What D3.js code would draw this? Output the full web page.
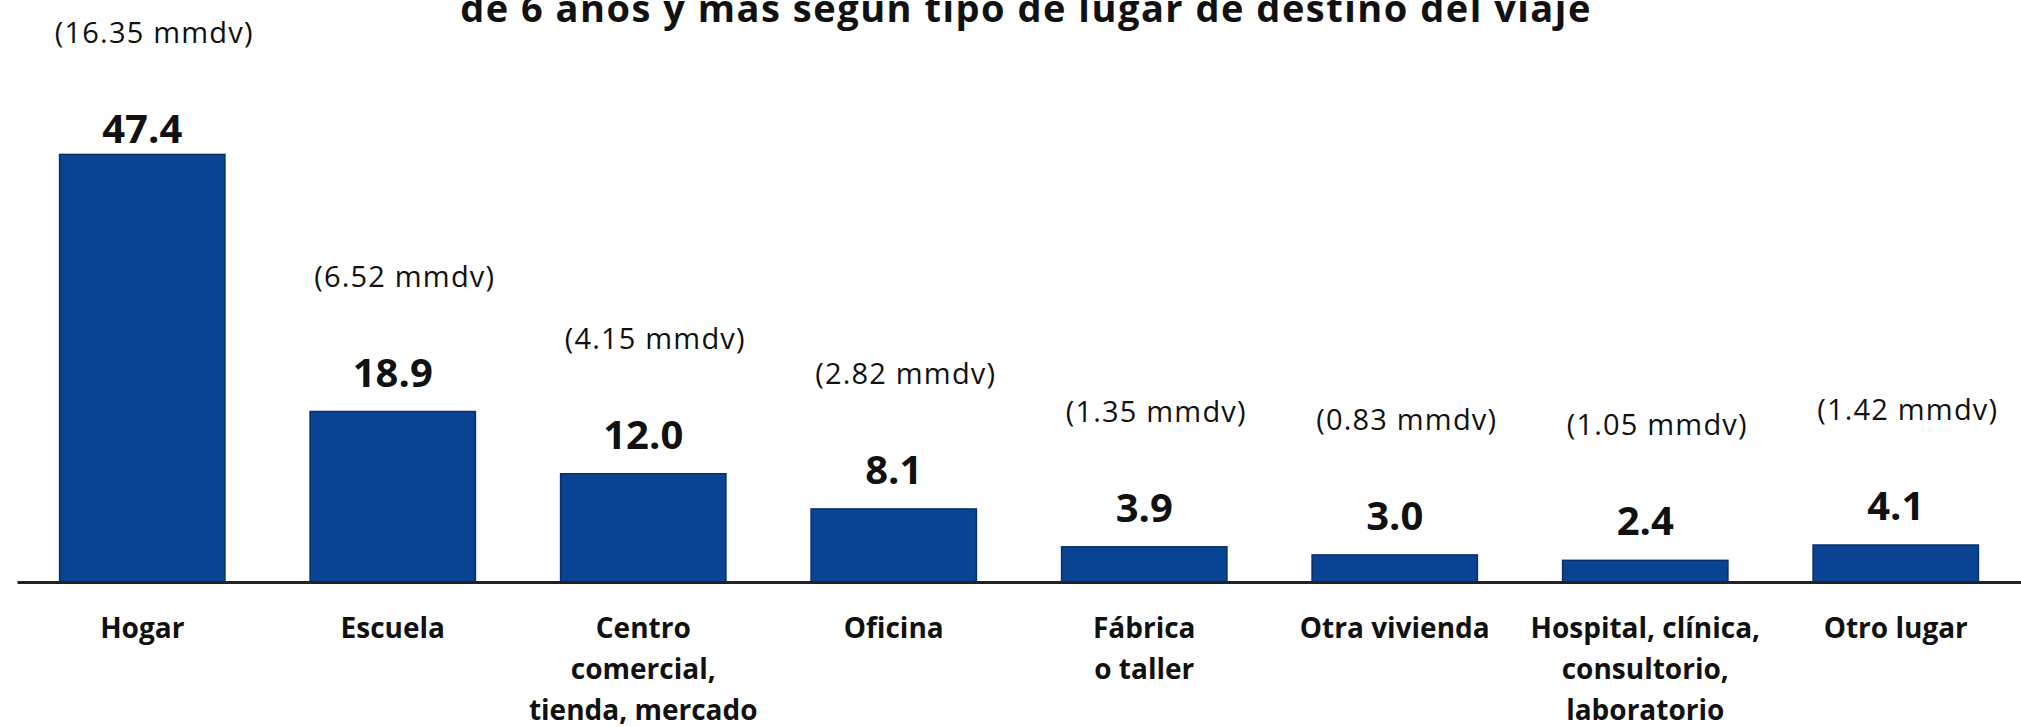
<!DOCTYPE html>
<html>
<head>
    <style>
        body {
            margin: 0;
            background: #fff;
        }
        text {
            font-family: "Open Sans", Arial, sans-serif;
            fill: #111;
        }
    </style>
</head>
<body>
    <svg width="2021" height="727"></svg>

    <script src="https://d3js.org/d3.v7.min.js"></script>
    <script>
        // Datos: viajes por tipo de lugar de destino (%)
        const categories = ["Hogar", "Escuela", "Centro comercial, tienda, mercado", "Oficina",
                            "Fábrica o taller", "Otra vivienda", "Hospital, clínica, consultorio, laboratorio", "Otro lugar"];
        const labelLines = [["Hogar"], ["Escuela"], ["Centro", "comercial,", "tienda, mercado"], ["Oficina"],
                            ["Fábrica", "o taller"], ["Otra vivienda"], ["Hospital, clínica,", "consultorio,", "laboratorio"], ["Otro lugar"]];
        const percent = [47.4, 18.9, 12.0, 8.1, 3.9, 3.0, 2.4, 4.1];
        const mmdv = [16.35, 6.52, 4.15, 2.82, 1.35, 0.83, 1.05, 1.42];
        const titleText = "de 6 años y más según tipo de lugar de destino del viaje";

        const svg = d3.select("svg"),
              width = +svg.attr("width"),
              height = +svg.attr("height");

        const baseY = 582;

        const x = d3.scaleBand()
            .domain(categories)
            .range([17, width])
            .paddingInner(0.34)
            .paddingOuter(0.17);

        const y = d3.scaleLinear()
            .domain([0, 50])
            .range([baseY, 131]);

        // Title (second line, the first is cut off)
        svg.append("text")
            .attr("x", 1026)
            .attr("y", 22)
            .attr("text-anchor", "middle")
            .attr("font-size", 38)
            .attr("font-weight", 700)
            .attr("letter-spacing", 1.5)
            .text(titleText);

        const data = categories.map((c, i) => ({ cat: c, lines: labelLines[i], v: percent[i], m: mmdv[i] }));

        // Bars
        svg.append("g")
            .selectAll("rect")
            .data(data)
            .join("rect")
            .attr("x", d => x(d.cat))
            .attr("y", d => y(d.v))
            .attr("width", x.bandwidth())
            .attr("height", d => baseY - y(d.v))
            .attr("fill", "#0b4393")
            .attr("stroke", "#082f6b")
            .attr("stroke-width", 1.5);

        // Axis line + category labels
        const axis = svg.append("g")
            .attr("transform", `translate(0,${baseY})`)
            .call(d3.axisBottom(x).tickSize(0).tickSizeOuter(0).tickFormat(""));

        axis.select(".domain")
            .attr("stroke", "#222")
            .attr("stroke-width", 3);

        axis.selectAll(".tick text").remove();
        axis.selectAll(".tick")
            .append("text")
            .attr("text-anchor", "middle")
            .attr("font-size", 28)
            .attr("font-weight", 700)
            .selectAll("tspan")
            .data((d, i) => labelLines[i])
            .join("tspan")
            .attr("x", 0)
            .attr("y", (d, i) => 56 + i * 41)
            .text(d => d);

        // Value labels
        const labelMinY = 143;
        const valueY = d => Math.max(y(d.v) - 25, labelMinY);

        svg.append("g")
            .selectAll("text")
            .data(data)
            .join("text")
            .attr("x", d => x(d.cat) + x.bandwidth() / 2)
            .attr("y", valueY)
            .attr("text-anchor", "middle")
            .attr("font-size", 40)
            .attr("font-weight", 700)
            .text(d => d.v.toFixed(1));

        // Millones de viajes
        svg.append("g")
            .selectAll("text")
            .data(data)
            .join("text")
            .attr("x", d => x(d.cat) + x.bandwidth() / 2 + 12)
            .attr("y", d => valueY(d) - 100)
            .attr("text-anchor", "middle")
            .attr("font-size", 29)
            .attr("letter-spacing", 1.2)
            .text(d => `(${d.m.toFixed(2)} mmdv)`);
    </script>
</body>
</html>
